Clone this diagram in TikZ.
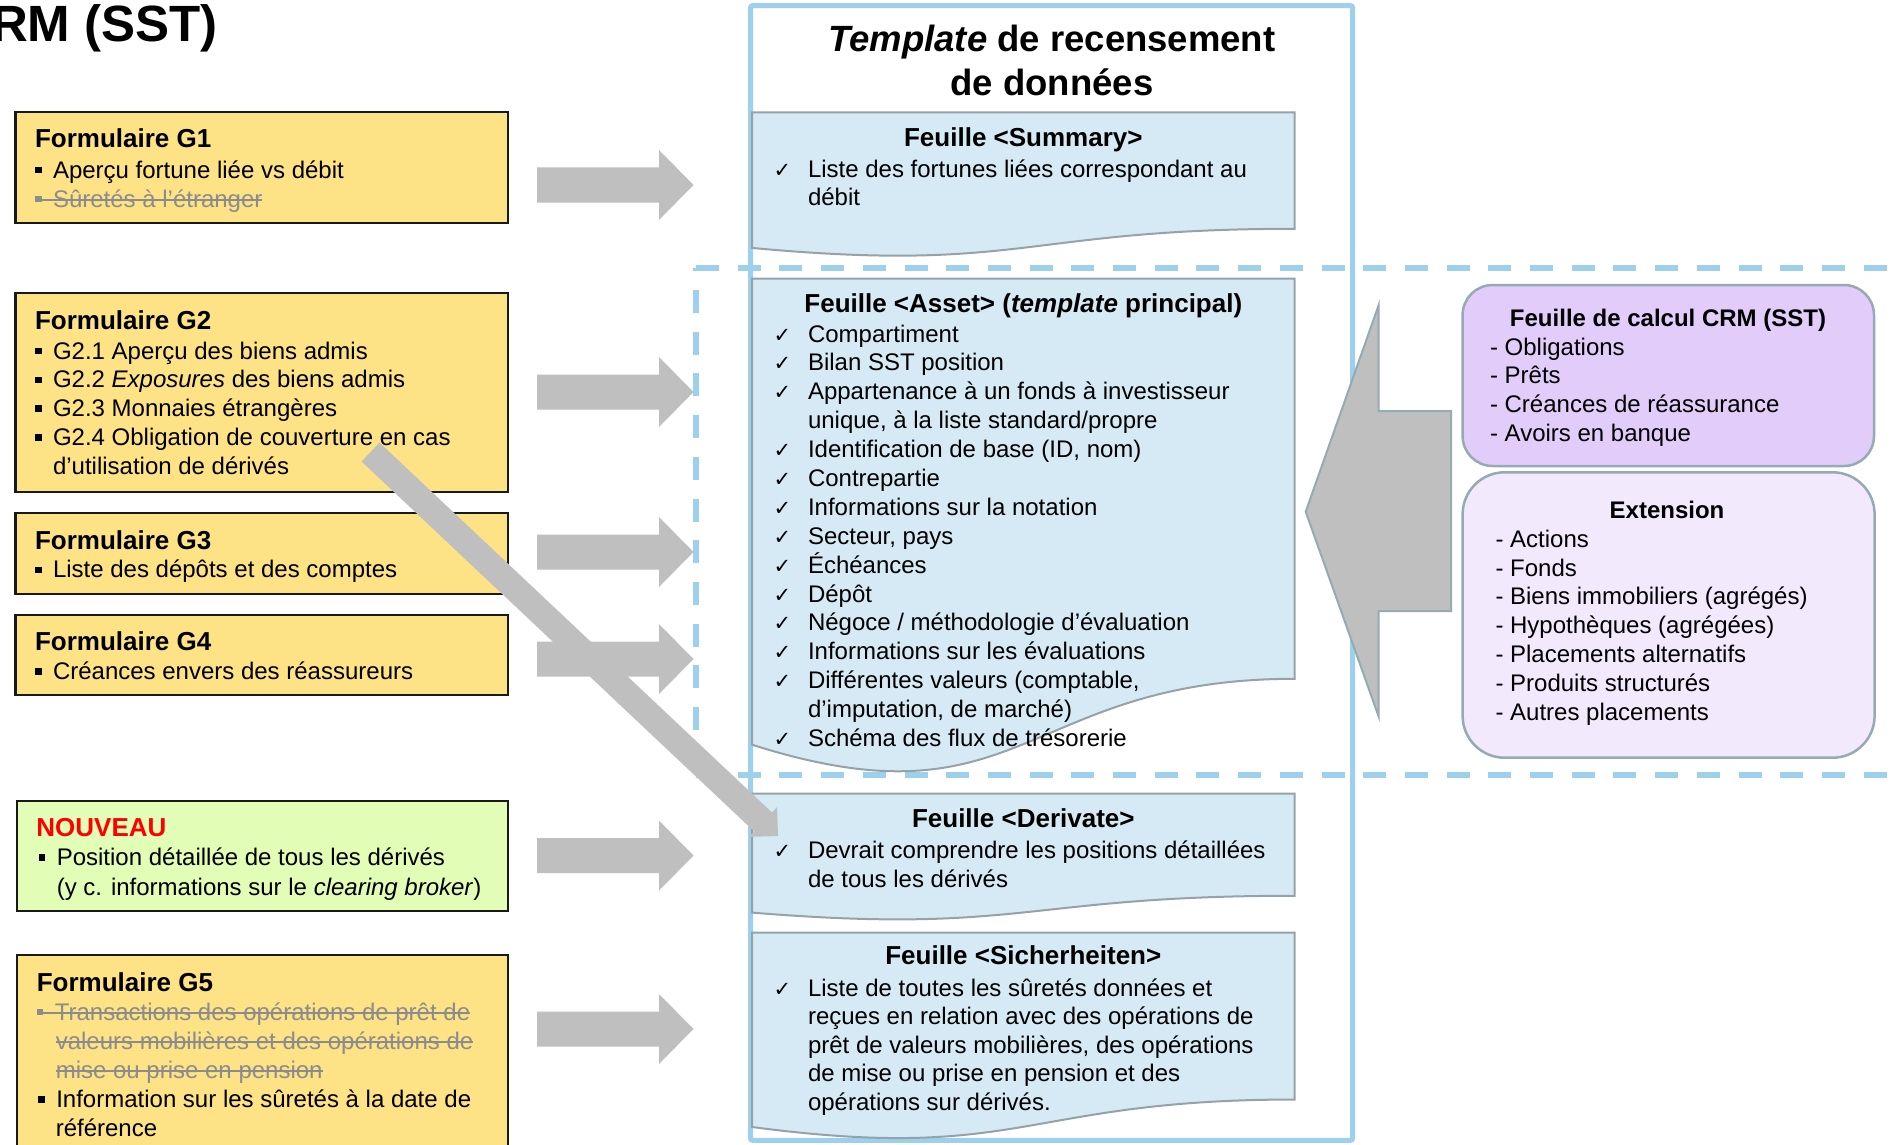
\documentclass[tikz,border=0pt]{standalone}
\usepackage{fontspec}
\setmainfont{Liberation Sans}
\newfontfamily\djv{DejaVu Sans}
\usetikzlibrary{calc}
\definecolor{tblue}{RGB}{157,208,237}
\definecolor{sheetfill}{RGB}{213,234,245}
\definecolor{sheetline}{RGB}{150,162,168}
\definecolor{yel}{RGB}{253,226,134}
\definecolor{grn}{RGB}{226,253,182}
\definecolor{arrgray}{RGB}{191,191,191}
\definecolor{crmfill}{RGB}{226,204,250}
\definecolor{extfill}{RGB}{242,233,253}
\definecolor{pline}{RGB}{150,170,178}
\definecolor{strikegray}{RGB}{140,140,140}
\definecolor{boxline}{RGB}{25,25,25}
\newcommand\sqb{\raisebox{4.8pt}{\rule{6.5pt}{6.5pt}}}
\newcommand\bl{\makebox[18pt][l]{\sqb}}
\newcommand\ck{\makebox[34.4pt][l]{\djv\fontsize{21}{21}\selectfont ✓}}
\newcommand\ind{\hspace*{34.4pt}}
\newcommand\strk[1]{\setbox0\hbox{#1}\rlap{\rule[6.5pt]{\wd0}{1.4pt}}\box0}
\newcommand\bodyf{\fontsize{24}{28.8}\selectfont}
\newcommand\ttlf{\fontsize{26}{28.8}\selectfont\bfseries}
\newcommand\sheetpath[2]{%
  \draw[sheetst] (752,#1) -- (1294.5,#1) -- (1294.5,#1+0.802*#2)
    .. controls (1023.25,#1+0.802*#2) and (1023.25,#1+1.1075*#2) .. (752,#1+0.934*#2) -- cycle;}
\newcommand\harrow[1]{%
  \fill[arrgray] (537,#1-17.5) -- (659,#1-17.5) -- (659,#1-35) -- (693.5,#1)
    -- (659,#1+35) -- (659,#1+17.5) -- (537,#1+17.5) -- cycle;}
\tikzset{
  txt/.style={anchor=base west, inner sep=0pt, outer sep=0pt},
  ctxt/.style={anchor=base, inner sep=0pt, outer sep=0pt},
  ybox/.style={draw=boxline, line width=2.2pt, fill=yel, inner sep=0pt, outer sep=0pt, anchor=north west},
  pbox/.style={draw=pline, line width=2.5pt, inner sep=0pt, outer sep=0pt, anchor=north west},
  sheetst/.style={draw=sheetline, line width=2pt, fill=sheetfill},
  dashline/.style={draw=tblue, line width=5.5pt, dash pattern=on 23pt off 18.7pt},
  bigarrow/.style={draw=pline, line width=2pt, fill=arrgray, line join=miter},
}
\begin{document}
\begin{tikzpicture}[x=1pt, y=-1pt]
\useasboundingbox (0,0) rectangle (1893,1145);
\fill[white] (0,0) rectangle (1893,1145);

% title
\node[anchor=base east, inner sep=0pt] (maintitle) at (218,42) {\fontsize{51}{51}\selectfont\bfseries RM (SST)};

% dashed frame
\draw[dashline] (696,268) -- (1900,268);
\draw[dashline, dash phase=19.7pt] (696,268) -- (696,775);
\draw[dashline] (696,775) -- (1900,775);

% template frame
\draw[tblue, line width=5pt, rounded corners=2pt] (750.5,5.7) rectangle (1352.6,1140.3);
\node[ctxt] (tpltitle) at (1052,52) {\parbox[t]{600pt}{\centering\fontsize{36.5}{44}\selectfont\bfseries \textit{Template} de recensement\\ de données}};

% sheets
\sheetpath{112.5}{145}
\sheetpath{278.6}{499}
\sheetpath{793.5}{127.5}
\sheetpath{932.7}{208}

\node[ctxt] (sumtitle) at (1023.3,146.4) {\ttlf Feuille <Summary>};
\node[txt] (sumtext) at (773.6,177) {\parbox[t]{600pt}{\fontsize{24}{28.5}\selectfont
\ck Liste des fortunes liées correspondant au\\
\ind débit}};

\node[ctxt] (assettitle) at (1023.3,312.5) {\ttlf Feuille <Asset> (\textit{template} principal)};
\node[txt] (assettext) at (773.6,342) {\parbox[t]{600pt}{\fontsize{24}{28.89}\selectfont
\ck Compartiment\\
\ck Bilan SST position\\
\ck Appartenance à un fonds à investisseur\\
\ind unique, à la liste standard/propre\\
\ck Identification de base (ID, nom)\\
\ck Contrepartie\\
\ck Informations sur la notation\\
\ck Secteur, pays\\
\ck Échéances\\
\ck Dépôt\\
\ck Négoce / méthodologie d’évaluation\\
\ck Informations sur les évaluations\\
\ck Différentes valeurs (comptable,\\
\ind d’imputation, de marché)\\
\ck Schéma des flux de trésorerie}};

\node[ctxt] (dertitle) at (1023.3,827.4) {\ttlf Feuille <Derivate>};
\node[txt] (dertext) at (773.6,858.3) {\parbox[t]{600pt}{\fontsize{24}{28.9}\selectfont
\ck Devrait comprendre les positions détaillées\\
\ind de tous les dérivés}};

\node[ctxt] (sictitle) at (1023.3,964.4) {\ttlf Feuille <Sicherheiten>};
\node[txt] (sictext) at (773.6,996) {\parbox[t]{600pt}{\fontsize{24}{28.6}\selectfont
\ck Liste de toutes les sûretés données et\\
\ind reçues en relation avec des opérations de\\
\ind prêt de valeurs mobilières, des opérations\\
\ind de mise ou prise en pension et des\\
\ind opérations sur dérivés.}};

% left boxes
\node[ybox, minimum width=492.5pt, minimum height=111pt] (g1) at (15.5,112) {};
\node[ybox, minimum width=492.5pt, minimum height=199pt] (g2) at (15.5,293) {};
\node[ybox, minimum width=492.5pt, minimum height=81pt] (g3) at (15.5,513) {};
\node[ybox, minimum width=492.5pt, minimum height=80pt] (g4) at (15.5,615) {};
\node[ybox, fill=grn, minimum width=491pt, minimum height=110pt] (nouv) at (17,801) {};
\node[ybox, minimum width=491pt, minimum height=230pt] (g5) at (17,955) {};

\node[txt] (g1t) at (35,148) {\parbox[t]{600pt}{\bodyf{\ttlf Formulaire G1}\\[1.5pt]
\bl Aperçu fortune liée vs débit\\
\leavevmode{\color{strikegray}\strk{\bl Sûretés à l’étranger}}}};

\node[txt] (g2t) at (35,329) {\parbox[t]{600pt}{\bodyf{\ttlf Formulaire G2}\\[1.2pt]
\bl G2.1 Aperçu des biens admis\\
\bl G2.2 \textit{Exposures} des biens admis\\
\bl G2.3 Monnaies étrangères\\
\bl G2.4 Obligation de couverture en cas\\
\hspace*{18pt}d’utilisation de dérivés}};

\node[txt] (g3t) at (35,549) {\parbox[t]{600pt}{\bodyf{\ttlf Formulaire G3}\\
\bl Liste des dépôts et des comptes}};

\node[txt] (g4t) at (35,650.5) {\parbox[t]{600pt}{\bodyf{\ttlf Formulaire G4}\\
\bl Créances envers des réassureurs}};

\node[txt] (nouvt) at (36.4,836) {\parbox[t]{600pt}{\fontsize{24}{29.5}\selectfont\leavevmode\textcolor{red}{\ttlf NOUVEAU}\\
\hspace*{2.4pt}\bl Position détaillée de tous les dérivés\\
\hspace*{20.4pt}(y c. informations sur le \textit{clearing broker})}};

\node[txt] (g5t) at (36.8,991) {\parbox[t]{600pt}{\fontsize{24}{29.1}\selectfont{\ttlf Formulaire G5}\\
\leavevmode{\color{strikegray}\strk{\bl Transactions des opérations de prêt de}}\\
\hspace*{19pt}{\color{strikegray}\strk{valeurs mobilières et des opérations de}}\\
\hspace*{19pt}{\color{strikegray}\strk{mise ou prise en pension}}\\
\hspace*{1.5pt}\bl Information sur les sûretés à la date de\\
\hspace*{19pt}référence}};

% horizontal block arrows
\harrow{185}
\harrow{392}
\harrow{552}
\harrow{659}
\harrow{855.5}
\harrow{1029}

% big left arrow
\draw[bigarrow] (1305.7,511.7) -- (1378.7,305) -- (1378.7,411) -- (1451,411)
  -- (1451,611) -- (1378.7,611) -- (1378.7,716.7) -- cycle;

% right boxes
\node[pbox, fill=crmfill, rounded corners=30pt, minimum width=411.4pt, minimum height=181pt] (crm) at (1462.6,285) {};
\node[ctxt] (crmtitle) at (1668,326.7) {\fontsize{24}{24}\selectfont\bfseries Feuille de calcul CRM (SST)};
\node[txt] (crmtext) at (1490,355) {\parbox[t]{400pt}{\fontsize{24}{28.9}\selectfont
- Obligations\\
- Prêts\\
- Créances de réassurance\\
- Avoirs en banque}};

\node[pbox, fill=extfill, rounded corners=42pt, minimum width=412pt, minimum height=285.4pt] (ext) at (1462.6,472.3) {};
\node[ctxt] (exttitle) at (1667,518.3) {\fontsize{24}{24}\selectfont\bfseries Extension};
\node[txt] (exttext) at (1495.5,547.3) {\parbox[t]{400pt}{\fontsize{24}{28.8}\selectfont
- Actions\\
- Fonds\\
- Biens immobiliers (agrégés)\\
- Hypothèques (agrégées)\\
- Placements alternatifs\\
- Produits structurés\\
- Autres placements}};

% diagonal arrow from G2 to Derivate sheet
\coordinate (dS) at (370.5,452);
\coordinate (dT) at (778,836);
\coordinate (dB) at ($(dT)!20.5pt!(dS)$);
\fill[arrgray] ($(dS)!13pt!90:(dT)$) -- ($(dB)!13pt!90:(dT)$) -- ($(dB)!20.5pt!90:(dT)$)
  -- (dT) -- ($(dB)!20.5pt!-90:(dT)$) -- ($(dB)!13pt!-90:(dT)$) -- ($(dS)!13pt!-90:(dT)$) -- cycle;
\end{tikzpicture}
\end{document}
